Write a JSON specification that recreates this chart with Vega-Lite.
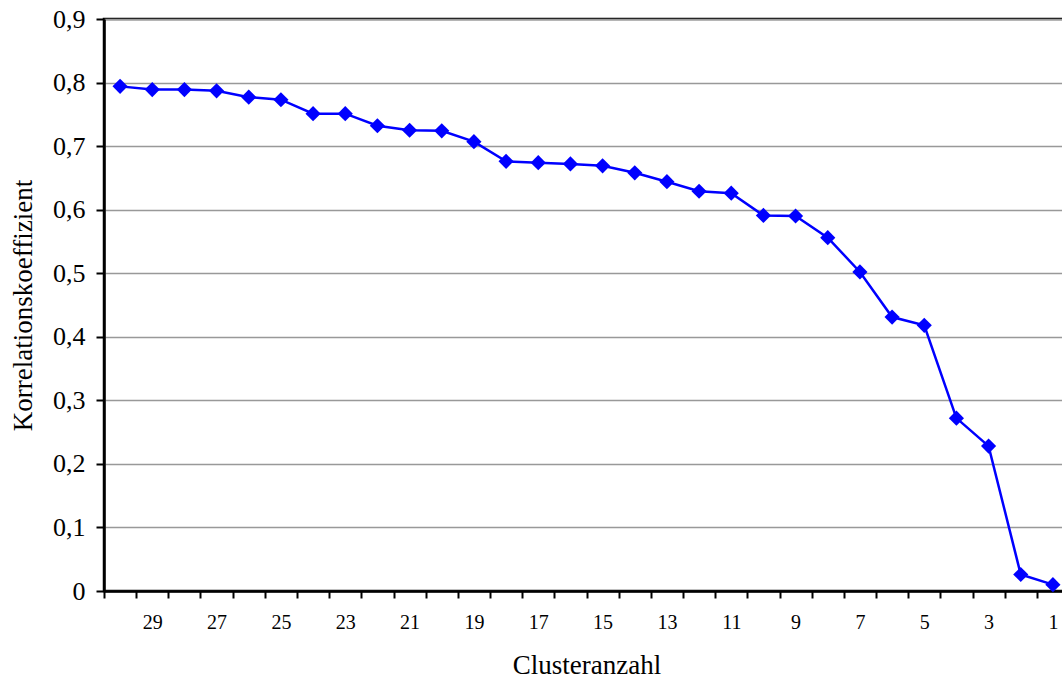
{
  "$schema": "https://vega.github.io/schema/vega-lite/v6.json",
  "width": 965,
  "height": 572,
  "autosize": {"type": "none"},
  "padding": {"left": 104, "top": 19, "right": 0, "bottom": 88},
  "background": "white",
  "config": {
    "view": {"stroke": "black", "strokeWidth": 2.5},
    "font": "Liberation Serif"
  },
  "data": {
    "values": [
      {"k": 30, "r": 0.794},
      {"k": 29, "r": 0.789},
      {"k": 28, "r": 0.789},
      {"k": 27, "r": 0.787},
      {"k": 26, "r": 0.777},
      {"k": 25, "r": 0.773},
      {"k": 24, "r": 0.751},
      {"k": 23, "r": 0.751},
      {"k": 22, "r": 0.732},
      {"k": 21, "r": 0.725},
      {"k": 20, "r": 0.724},
      {"k": 19, "r": 0.707},
      {"k": 18, "r": 0.676},
      {"k": 17, "r": 0.674},
      {"k": 16, "r": 0.672},
      {"k": 15, "r": 0.669},
      {"k": 14, "r": 0.658},
      {"k": 13, "r": 0.644},
      {"k": 12, "r": 0.629},
      {"k": 11, "r": 0.626},
      {"k": 10, "r": 0.591},
      {"k": 9, "r": 0.590},
      {"k": 8, "r": 0.556},
      {"k": 7, "r": 0.502},
      {"k": 6, "r": 0.431},
      {"k": 5, "r": 0.418},
      {"k": 4, "r": 0.272},
      {"k": 3, "r": 0.228},
      {"k": 2, "r": 0.026},
      {"k": 1, "r": 0.010}
    ]
  },
  "encoding": {
    "x": {
      "field": "k",
      "type": "quantitative",
      "scale": {"domain": [0.5, 30.5], "reverse": true, "nice": false, "zero": false},
      "axis": {
        "title": "Clusteranzahl",
        "titleFont": "Liberation Serif",
        "titleFontSize": 27,
        "titleFontWeight": "normal",
        "titleColor": "black",
        "titleBaseline": "alphabetic",
        "titleY": 82,
        "values": [0.5, 1, 1.5, 2, 2.5, 3, 3.5, 4, 4.5, 5, 5.5, 6, 6.5, 7, 7.5, 8, 8.5, 9, 9.5, 10, 10.5, 11, 11.5, 12, 12.5, 13, 13.5, 14, 14.5, 15, 15.5, 16, 16.5, 17, 17.5, 18, 18.5, 19, 19.5, 20, 20.5, 21, 21.5, 22, 22.5, 23, 23.5, 24, 24.5, 25, 25.5, 26, 26.5, 27, 27.5, 28, 28.5, 29, 29.5, 30, 30.5],
        "labelExpr": "datum.value % 2 == 1 ? datum.value + '' : ''",
        "labelOverlap": false,
        "labelFlush": false,
        "labelFont": "Liberation Serif",
        "labelFontSize": 20,
        "labelColor": "black",
        "labelPadding": 14,
        "tickSize": 7,
        "tickWidth": 2,
        "tickColor": "black",
        "tickOpacity": {"condition": {"test": "datum.value % 1 == 0", "value": 0}, "value": 1},
        "domainColor": "black",
        "domainWidth": 2.5,
        "grid": false
      }
    },
    "y": {
      "field": "r",
      "type": "quantitative",
      "scale": {"domain": [0, 0.9], "nice": false},
      "axis": {
        "title": "Korrelationskoeffizient",
        "titleFont": "Liberation Serif",
        "titleFontSize": 27,
        "titleFontWeight": "normal",
        "titleColor": "black",
        "titleBaseline": "alphabetic",
        "titleAngle": 270,
        "titleX": -73,
        "titleY": 286,
        "values": [0, 0.1, 0.2, 0.3, 0.4, 0.5, 0.6, 0.7, 0.8, 0.9],
        "labelExpr": "datum.value == 0 ? '0' : replace(format(datum.value, '.1f'), '.', ',')",
        "labelFont": "Liberation Serif",
        "labelFontSize": 26,
        "labelColor": "black",
        "labelPadding": 11,
        "tickSize": 8,
        "tickWidth": 2,
        "tickColor": "black",
        "domainColor": "black",
        "domainWidth": 2.5,
        "grid": true,
        "gridColor": "#999999",
        "gridWidth": 1.6
      }
    }
  },
  "layer": [
    {"mark": {"type": "line", "color": "#0000FF", "strokeWidth": 2.5}},
    {"mark": {"type": "point", "shape": "diamond", "filled": true, "color": "#0000FF", "size": 230, "opacity": 1}}
  ]
}
